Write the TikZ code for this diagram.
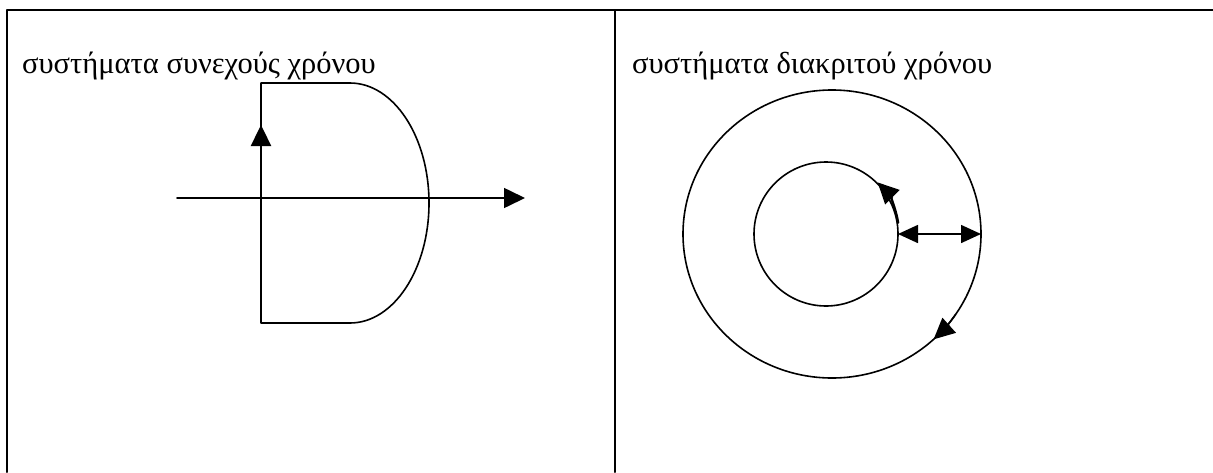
\documentclass[tikz,border=0pt]{standalone}
\usepackage{fontspec}
\setmainfont{Liberation Serif}
\usetikzlibrary{arrows.meta}

\begin{document}
\begin{tikzpicture}[
      % un pixel del riferimento = 1pt, asse y verso il basso
      x=1pt,
      y=-1pt,
      line join=round,
      line cap=round
  ]

  % Dimensioni del foglio
  \def\W{1213}
  \def\H{472}

  \tikzset{
      frame/.style={draw=black, line width=2pt},
      curve/.style={draw=black, line width=1.6pt},
      title/.style={anchor=base west, inner sep=0pt, font=\fontsize{30.5}{34}\selectfont},
      headtip/.style={-{Triangle[length=21pt, width=20pt]}},
      bothtips/.style={{Triangle[length=20pt, width=18pt]}-{Triangle[length=20pt, width=18pt]}}
  }

  \useasboundingbox (0,0) rectangle (\W,\H);

  % 1. Cornice della tabella
  \draw[frame] (7,\H) -- (7,10) -- (\W,10);
  \draw[frame] (615,10) -- (615,\H);

  % 2. Titoli
  \node[title] (contTitle) at (22,73) {συστήματα συνεχούς χρόνου};
  \node[title] (discTitle) at (632,73) {συστήματα διακριτού χρόνου};

  % 3. Piano s
  \draw[curve, headtip] (177,198) -- (525,198);
  \draw[curve] (261,323) -- (261,83) -- (350,83)
      arc[start angle=-90, end angle=90, x radius=79, y radius=120] -- cycle;
  \draw[line width=2.4pt, headtip] (261,172) -- (261,125);

  % 4. Piano z
  \coordinate (zc) at (832,234);
  \coordinate (uc) at (826,234);
  \draw[curve] (zc) ellipse[x radius=149, y radius=144];
  \draw[curve] (uc) circle[radius=72];
  \draw[curve, bothtips] (898,234) -- (981,234);
  \draw[line width=2.4pt, headtip] (uc) ++(-9:73)
      arc[start angle=-9, end angle=-45, radius=73];
  \draw[curve, headtip] (zc) ++(34:149 and 144)
      arc[start angle=34, end angle=47, x radius=149, y radius=144];

\end{tikzpicture}
\end{document}
